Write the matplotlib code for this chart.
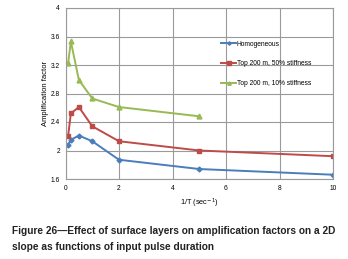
import matplotlib
matplotlib.use("Agg")
import matplotlib.pyplot as plt

x_homo = [0.1, 0.2, 0.5, 1, 2, 5, 10]
y_homo = [2.08, 2.15, 2.21, 2.13, 1.87, 1.74, 1.66]
x_50 = [0.1, 0.2, 0.5, 1, 2, 5, 10]
y_50 = [2.21, 2.52, 2.61, 2.34, 2.13, 2.00, 1.92]
x_10 = [0.1, 0.2, 0.5, 1, 2, 5]
y_10 = [3.23, 3.53, 2.99, 2.73, 2.61, 2.48]

labels = ["Homogeneous", "Top 200 m, 50% stiffness", "Top 200 m, 10% stiffness"]
xticks = [0, 2, 4, 6, 8, 10]
yticks = [1.6, 2, 2.4, 2.8, 3.2, 3.6, 4]

plt.rcParams['font.family'] = ['Liberation Sans', 'DejaVu Sans']

fig = plt.figure(figsize=(3.48, 2.59), dpi=100)
ax = fig.add_axes([65.5/348, 1 - 179/259, (333 - 65.5)/348, (179 - 8)/259])

ax.plot(x_homo, y_homo, color='#4A7EBB', marker='D', markersize=2.5, lw=1.4, label=labels[0])
ax.plot(x_50, y_50, color='#BE4B48', marker='s', markersize=3.5, lw=1.4, label=labels[1])
ax.plot(x_10, y_10, color='#98B954', marker='^', markersize=3.5, lw=1.4, label=labels[2])

ax.set_xlim(0, 10)
ax.set_ylim(1.6, 4)
ax.set_xticks(xticks)
ax.set_yticks(yticks)
ax.set_xticklabels([str(t) for t in xticks])
ax.set_yticklabels([f"{t:g}" for t in yticks])
ax.tick_params(length=0, labelsize=4.8, pad=4)
ax.grid(True, color='#9a9a9a', lw=0.8)
for s in ax.spines.values():
    s.set_color('#9a9a9a')
    s.set_linewidth(0.8)
ax.set_axisbelow(True)

ax.set_xlabel("1/T (sec$^{-1}$)", fontsize=5.3, labelpad=4)
ax.set_ylabel("Amplification factor", fontsize=5.5, labelpad=1)

leg = ax.legend(loc='upper left', bbox_to_anchor=(0.56, 0.845), frameon=False,
                fontsize=4.8, handlelength=2.2, labelspacing=1.9, handletextpad=0.15,
                markerscale=0.7)

fig.text(12/348, 1 - 231/259, "Figure 26\u2014Effect of surface layers on amplification factors on a 2D",
         fontsize=7.3, fontweight='bold', va='center', color='#222222')
fig.text(12/348, 1 - 247/259, "slope as functions of input pulse duration",
         fontsize=7.3, fontweight='bold', va='center', color='#222222')

fig.savefig("out.png", dpi=100)
